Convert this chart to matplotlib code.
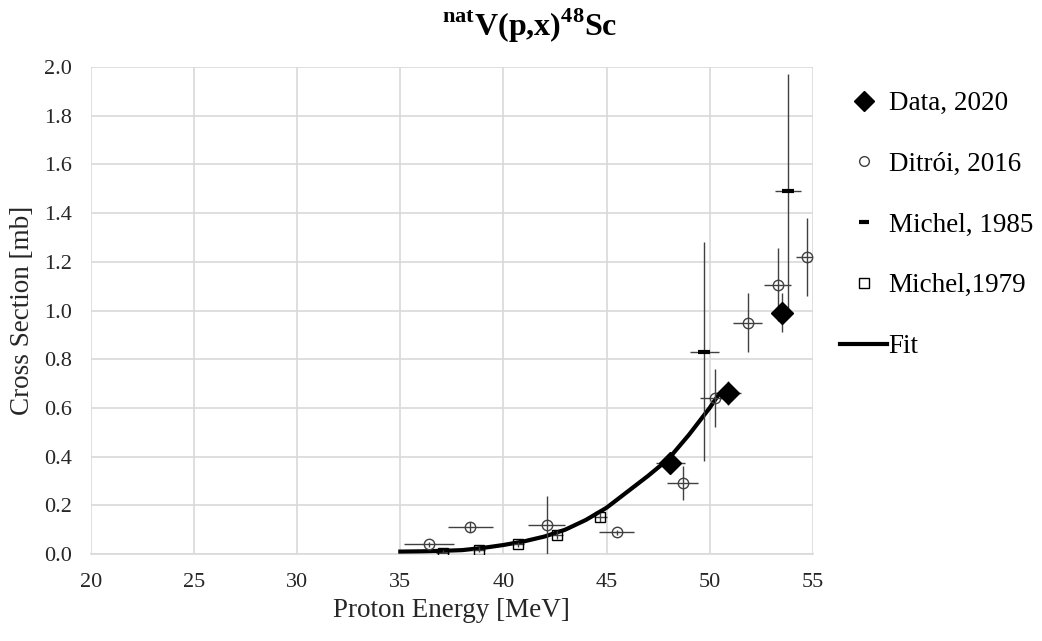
import numpy as np
import matplotlib.pyplot as plt
from matplotlib.lines import Line2D

plt.rcParams['font.family'] = ['Liberation Serif', 'DejaVu Serif']
plt.rcParams['mathtext.fontset'] = 'custom'
plt.rcParams['mathtext.rm'] = 'Liberation Serif'
plt.rcParams['mathtext.bf'] = 'Liberation Serif:bold'

# ---- data ----
# Data, 2020
data_e = [48.1, 50.9, 53.5]
data_xs = [0.375, 0.66, 0.99]
data_ex = [0.7, 0.6, 0.5]
data_ey = [0.03, 0.05, 0.08]

# Ditroi, 2016
dit_e = [36.4, 38.4, 42.1, 45.5, 48.7, 50.25, 51.85, 53.3, 54.7]
dit_xs = [0.04, 0.11, 0.12, 0.09, 0.29, 0.64, 0.95, 1.105, 1.22]
dit_ex = [1.2, 1.1, 0.9, 0.85, 0.75, 0.7, 0.7, 0.65, 0.5]
dit_ey = [0.01, 0.02, 0.12, 0.01, 0.07, 0.12, 0.12, 0.15, 0.16]

# Michel, 1985
m85_e = [49.75, 53.8]
m85_xs = [0.83, 1.49]
m85_ex = [0.7, 0.65]
m85_ey = [0.45, 0.48]

# Michel, 1979
m79_e = [37.05, 38.8, 40.7, 42.6, 44.7]
m79_xs = [0.005, 0.018, 0.04, 0.08, 0.153]
m79_ex = [0.3, 0.3, 0.3, 0.3, 0.3]
m79_ey = [0.01, 0.01, 0.01, 0.02, 0.02]

# Fit curve
fit_e = [35, 36, 37, 38, 39, 40, 41, 42, 43, 44, 45, 46, 47, 48, 49, 50, 50.4]
fit_xs = [0.01, 0.011, 0.013, 0.016, 0.025, 0.037, 0.052, 0.072, 0.1, 0.14, 0.19,
          0.255, 0.32, 0.39, 0.49, 0.6, 0.65]

fig = plt.figure(figsize=(10.42, 6.41), dpi=100)
ax = fig.add_axes([0.0873, 0.1357, 0.6927, 0.7598])

ebar_kw = dict(ls='none', ecolor='#404040', elinewidth=1.0, capsize=0)

ax.plot(fit_e, fit_xs, color='black', lw=3, zorder=3)
ax.errorbar(m79_e, m79_xs, xerr=m79_ex, yerr=m79_ey, marker='s', ms=7,
            mfc='none', mec='black', mew=1.0, zorder=4, **ebar_kw)
ax.errorbar(dit_e, dit_xs, xerr=dit_ex, yerr=dit_ey, marker='o', ms=7.5,
            mfc='none', mec='#404040', mew=1.0, zorder=4, **ebar_kw)
ax.errorbar(m85_e, m85_xs, xerr=m85_ex, yerr=m85_ey, marker='_', ms=8,
            mec='black', mew=3, zorder=4, **ebar_kw)
ax.errorbar(data_e, data_xs, xerr=data_ex, yerr=data_ey, marker='D', ms=11,
            mfc='black', mec='black', zorder=5, **ebar_kw)

ax.set_xlim(20, 55)
ax.set_ylim(0, 2.0)
ax.set_xticks(np.arange(20, 56, 5))
ax.set_yticks(np.arange(0, 2.01, 0.2))
ax.set_yticklabels([f'{v:.1f}' for v in np.arange(0, 2.01, 0.2)])
ax.grid(True, color='#d9d9d9', lw=1.2)
ax.set_axisbelow(True)
for s in ['top', 'right', 'left']:
    ax.spines[s].set_visible(False)
ax.spines['bottom'].set_color('#d9d9d9')
ax.spines['bottom'].set_linewidth(1.2)
ax.tick_params(length=0, labelsize=16, colors='#262626')
ax.tick_params(axis='x', pad=14)
ax.tick_params(axis='y', pad=14)

ax.set_xlabel('Proton Energy [MeV]', fontsize=19.5, color='#262626', labelpad=4)
ax.set_ylabel('Cross Section [mb]', fontsize=19.5, color='#262626', labelpad=6)
fig.suptitle(r'$^{\mathbf{nat}}$V(p,x)$^{\mathbf{48}}$Sc', x=0.508, y=0.99,
             fontsize=23, fontweight='bold')

handles = [
    Line2D([], [], ls='none', marker='D', ms=10, mfc='black', mec='black'),
    Line2D([], [], ls='none', marker='o', ms=7, mfc='none', mec='#404040'),
    Line2D([], [], ls='none', marker='_', ms=7, mec='black', mew=3),
    Line2D([], [], ls='none', marker='s', ms=7.5, mfc='none', mec='black'),
    Line2D([], [], color='black', lw=3),
]
labels = ['Data, 2020', 'Ditrói, 2016', 'Michel, 1985', 'Michel,1979', 'Fit']
fig.legend(handles, labels, loc='upper left', bbox_to_anchor=(0.806, 0.858),
           frameon=False, fontsize=19.5, labelspacing=1.32, handlelength=1.75,
           handletextpad=0.05, borderpad=0, borderaxespad=0)

fig.savefig('out.png', dpi=100)
